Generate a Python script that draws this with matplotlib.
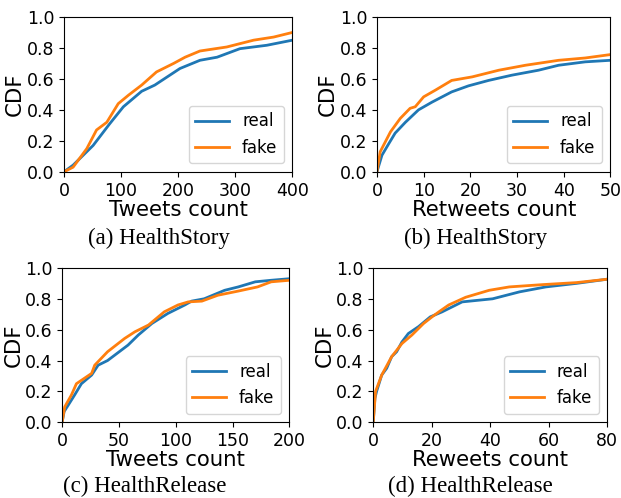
import matplotlib
matplotlib.use('Agg')
import matplotlib.pyplot as plt

####################################################################################

FIGURE_XSIZE = 6.21
FIGURE_YSIZE = 4.98

REAL_RGB = '#1f77b4'
FAKE_RGB = '#ff7f0e'

# (a) HealthStory, tweets
a_real_x = [0, 16, 51, 80, 104, 136, 159, 203, 238, 268, 308, 355, 400]
a_real_y = [0, 0.043, 0.17, 0.31, 0.42, 0.52, 0.56, 0.667, 0.72, 0.74, 0.795, 0.817, 0.85]
a_fake_x = [0, 16, 40, 57, 75, 95, 113, 136, 162, 192, 212, 238, 285, 332, 367, 400]
a_fake_y = [0, 0.03, 0.15, 0.27, 0.32, 0.44, 0.495, 0.56, 0.645, 0.70, 0.74, 0.78, 0.806, 0.85, 0.87, 0.90]

# (b) HealthStory, retweets
b_real_x = [0, 1.07, 2.5, 3.9, 6.1, 8.9, 11.8, 16, 19.6, 23.9, 28.9, 34.6, 38.9, 44.6, 50]
b_real_y = [0, 0.107, 0.18, 0.25, 0.32, 0.40, 0.45, 0.516, 0.555, 0.59, 0.624, 0.656, 0.688, 0.71, 0.72]
b_fake_x = [0, 0.7, 2.9, 5, 7.1, 8.2, 10, 12.5, 16, 20.4, 26.1, 31.8, 38.9, 44.6, 50]
b_fake_y = [0, 0.13, 0.258, 0.345, 0.41, 0.42, 0.484, 0.527, 0.59, 0.613, 0.656, 0.688, 0.72, 0.735, 0.757]

# (c) HealthRelease, tweets
c_real_x = [0, 1.8, 5.3, 11, 17, 26, 31.7, 40, 49, 58, 67, 79, 93, 108, 114, 125, 143, 155, 170, 184, 200]
c_real_y = [0, 0.07, 0.11, 0.177, 0.25, 0.306, 0.37, 0.40, 0.45, 0.50, 0.565, 0.64, 0.705, 0.76, 0.785,
            0.80, 0.855, 0.877, 0.91, 0.92, 0.93]
c_fake_x = [0, 2.3, 8.2, 12.6, 26, 28.7, 40, 55, 64, 76, 90, 102, 111, 123, 137, 155, 172, 184, 200]
c_fake_y = [0, 0.10, 0.177, 0.25, 0.317, 0.37, 0.457, 0.543, 0.586, 0.63, 0.716, 0.76, 0.78, 0.785,
            0.823, 0.85, 0.877, 0.91, 0.92]

# (d) HealthRelease, retweets
d_real_x = [0, 0.57, 1.15, 2.9, 4.6, 6.3, 8, 9.8, 12, 15.5, 19.5, 23.5, 30.4, 40.8, 50, 59, 69.5, 80]
d_real_y = [0, 0.155, 0.20, 0.306, 0.35, 0.425, 0.457, 0.52, 0.575, 0.62, 0.683, 0.715, 0.78, 0.80,
            0.845, 0.877, 0.90, 0.927]
d_fake_x = [0, 0.8, 2.9, 6.3, 9.8, 13.2, 17.2, 20.1, 22.4, 25.8, 31.6, 39.6, 46.5, 58, 69.5, 80]
d_fake_y = [0, 0.20, 0.306, 0.425, 0.51, 0.565, 0.64, 0.683, 0.715, 0.76, 0.81, 0.855, 0.877, 0.892,
            0.905, 0.927]

PANELS = [
    # rect, data, xmax, xticks, xlabel, caption, caption pos
    ([0.103, 0.655, 0.368, 0.311], (a_real_x, a_real_y, a_fake_x, a_fake_y), 400,
     [0, 100, 200, 300, 400], 'Tweets count', '(a) HealthStory', (0.256, 0.522)),
    ([0.607, 0.655, 0.376, 0.311], (b_real_x, b_real_y, b_fake_x, b_fake_y), 50,
     [0, 10, 20, 30, 40, 50], 'Retweets count', '(b) HealthStory', (0.766, 0.522)),
    ([0.100, 0.152, 0.366, 0.310], (c_real_x, c_real_y, c_fake_x, c_fake_y), 200,
     [0, 50, 100, 150, 200], 'Tweets count', '(c) HealthRelease', (0.233, 0.024)),
    ([0.601, 0.152, 0.377, 0.310], (d_real_x, d_real_y, d_fake_x, d_fake_y), 80,
     [0, 20, 40, 60, 80], 'Reweets count', '(d) HealthRelease', (0.757, 0.024)),
]

####################################################################################

figure = plt.figure(figsize=(FIGURE_XSIZE, FIGURE_YSIZE), dpi=100)

for rect, data, xmax, xticks, xlabel, caption, cpos in PANELS:
    axes = figure.add_axes(rect)
    rx, ry, fx, fy = data
    axes.plot(rx, ry, color=REAL_RGB, linewidth=2, label='real')
    axes.plot(fx, fy, color=FAKE_RGB, linewidth=2, label='fake')
    axes.set_xlim(0, xmax)
    axes.set_ylim(0, 1.0)
    axes.set_xticks(xticks)
    axes.set_yticks([0.0, 0.2, 0.4, 0.6, 0.8, 1.0])
    axes.tick_params(labelsize=12.5)
    axes.set_xlabel(xlabel, fontsize=15.3, labelpad=0)
    axes.set_ylabel('CDF', fontsize=15.3, labelpad=1)
    axes.legend(loc='lower right', fontsize=12)
    figure.text(cpos[0], cpos[1], caption, ha='center', va='center',
                fontsize=16.5, family='Liberation Serif')

plt.savefig('out.png', dpi=100)
